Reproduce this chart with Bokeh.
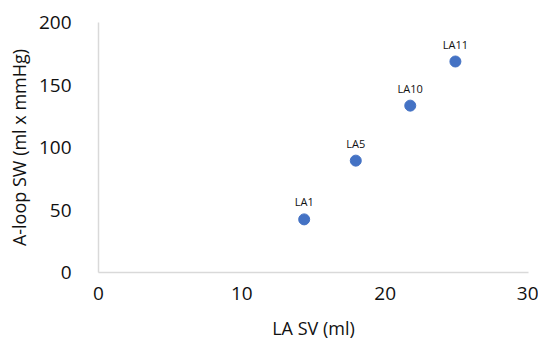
from bokeh.plotting import figure
from bokeh.models import Range1d, ColumnDataSource, FixedTicker
from bokeh.core.properties import value
from bokeh.embed import file_html
from bokeh.resources import INLINE

labels = ["LA1", "LA5", "LA10", "LA11"]
la_sv = [14.35, 17.95, 21.75, 24.9]
aloop_sw = [42.5, 89.5, 133.5, 168.8]
x_ticks = [0, 10, 20, 30]
y_ticks = [0, 50, 100, 150, 200]

src = ColumnDataSource(dict(x=la_sv, y=aloop_sw, label=labels))

p = figure(frame_width=430, frame_height=250, output_backend="svg", toolbar_location=None,
           x_range=Range1d(0, 30), y_range=Range1d(0, 200))
p.min_border_left = 98
p.min_border_top = 22
p.min_border_right = 10
p.min_border_bottom = 0
p.outline_line_color = None
p.grid.visible = False
p.background_fill_color = "white"

p.scatter("x", "y", source=src, size=11, fill_color="#4472C4", line_color="#4472C4")
p.text("x", "y", text="label", source=src, y_offset=-10, text_align="center",
       text_baseline="bottom", text_font=value("Open Sans"), text_font_size="11px",
       text_color="#111111")

font = "Open Sans"
p.xaxis.ticker = FixedTicker(ticks=x_ticks)
p.yaxis.ticker = FixedTicker(ticks=y_ticks)
p.xaxis.axis_label = "LA SV (ml)"
p.yaxis.axis_label = "A-loop SW (ml x mmHg)"
for ax in (p.xaxis, p.yaxis):
    ax.axis_line_color = "#D9D9D9"
    ax.axis_line_width = 1.5
    ax.major_tick_line_color = None
    ax.minor_tick_line_color = None
    ax.major_label_text_font = font
    ax.major_label_text_font_size = "19px"
    ax.major_label_text_color = "#111111"
    ax.axis_label_text_font = font
    ax.axis_label_text_font_size = "18px"
    ax.axis_label_text_font_style = "normal"
    ax.axis_label_text_color = "#111111"
p.xaxis.major_label_standoff = 8
p.xaxis.axis_label_standoff = 13
p.yaxis.major_label_standoff = 21
p.yaxis.axis_label_standoff = 5

open("out.html", "w").write(file_html(p, INLINE))
